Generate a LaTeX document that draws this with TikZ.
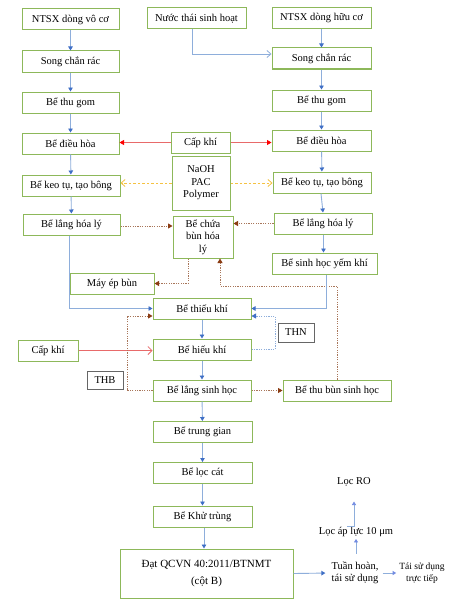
\documentclass[tikz,border=0pt]{standalone}
\usepackage{fontspec}
\setmainfont{Liberation Serif}
\usetikzlibrary{arrows.meta}
\definecolor{boxgreen}{HTML}{8DB85A}
\definecolor{linkblue}{HTML}{8EAEDB}
\definecolor{tipblue}{HTML}{3F6FC6}
\definecolor{airred}{HTML}{E86A6A}
\definecolor{chemyellow}{HTML}{F5C242}
\definecolor{sludge}{HTML}{A8765A}
\definecolor{tipbrown}{HTML}{8A3B12}
\tikzset{
  box/.style={draw=boxgreen, line width=1pt, fill=white, minimum height=21pt, inner sep=1pt, align=center},
  tagbox/.style={draw=gray!80!black, line width=0.9pt, fill=white, inner sep=1pt, align=center},
  plain/.style={inner sep=1pt, align=center},
  flow/.style={draw=linkblue, line width=0.9pt, -{Triangle[width=4.5pt,length=4pt,color=tipblue]}},
  flowopen/.style={draw=linkblue, line width=0.8pt, -{Straight Barb[width=7pt,length=4pt]}},
  air/.style={draw=airred, line width=0.9pt, -{Triangle[width=5pt,length=4.5pt,color=red]}},
  airopen/.style={draw=airred, line width=0.8pt, -{Straight Barb[width=8pt,length=4pt]}},
  chem/.style={draw=chemyellow, line width=0.8pt, dash pattern=on 2.5pt off 2pt, -{Straight Barb[width=7pt,length=4pt]}},
  mud/.style={draw=sludge, line width=0.8pt, dash pattern=on 1.2pt off 1.2pt, -{Triangle[width=5pt,length=4.5pt,color=tipbrown]}},
  recyc/.style={draw=linkblue, line width=0.8pt, dash pattern=on 1.2pt off 1.2pt, -{Triangle[width=5pt,length=4.5pt,color=tipblue]}},
  smallflow/.style={draw=linkblue, line width=0.7pt, -{Triangle[width=4pt,length=3.5pt,color=linkblue!80!blue]}},
}
\begin{document}
\begin{tikzpicture}[x=1pt,y=-1pt,font=\fontsize{10.5}{12.5}\selectfont]
\useasboundingbox[fill=white] (0,0) rectangle (458,610);

% left column
\node[box, minimum width=97pt] (L1) at (70.5,19.5) {NTSX dòng vô cơ};
\node[box, minimum width=97pt] (L2) at (70.5,61.5) {Song chắn rác};
\node[box, minimum width=97pt] (L3) at (70.5,102.5) {Bể thu gom};
\node[box, minimum width=97pt] (L4) at (70.5,143.5) {Bể điều hòa};
\node[box, minimum width=98pt] (L5) at (71,185.5) {Bể keo tụ, tạo bông};
\node[box, minimum width=97pt] (L6) at (71.5,224.5) {Bể lắng hóa lý};

% right column
\node[box, minimum width=99pt] (NT) at (196.5,18.5) {Nước thái sinh hoạt};
\node[box, minimum width=99pt] (R1) at (321.5,18) {NTSX dòng hữu cơ};
\node[box, minimum width=99pt] (R2) at (321.5,58.5) {Song chắn rác};
\node[box, minimum width=99pt] (R3) at (321.5,100.5) {Bể thu gom};
\node[box, minimum width=99pt] (R4) at (321.5,140.5) {Bể điều hòa};
\node[box, minimum width=98pt] (R5) at (322,182.5) {Bể keo tụ, tạo bông};
\node[box, minimum width=98pt] (R6) at (323,223.5) {Bể lắng hóa lý};
\node[box, minimum width=105pt] (R7) at (324.5,263.5) {Bể sinh học yếm khí};

% middle
\node[box, minimum width=59pt] (CK1) at (200.5,142.5) {Cấp khí};
\node[box, minimum width=58pt, minimum height=54pt] (CH) at (201,183) {NaOH\\PAC\\Polymer};
\node[box, minimum width=60pt, minimum height=42pt] (BC) at (203,237) {Bể chứa\\bùn hóa\\lý};
\node[box, minimum width=84pt] (MB) at (112,283.5) {Máy ép bùn};
\node[box, minimum width=98pt] (TK) at (202,308.5) {Bể thiếu khí};
\node[box, minimum width=98pt] (HK) at (202,349.5) {Bể hiếu khí};
\node[box, minimum width=60pt] (CK2) at (48,350.5) {Cấp khí};
\node[tagbox, minimum width=36pt, minimum height=19pt] (THN) at (296,332.5) {THN};
\node[tagbox, minimum width=36pt, minimum height=18pt] (THB) at (105,380) {THB};
\node[box, minimum width=98pt] (LS) at (202,390.5) {Bể lắng sinh học};
\node[box, minimum width=108pt] (TB) at (337,390.5) {Bể thu bùn sinh học};
\node[box, minimum width=99pt] (TG) at (202.5,432) {Bể trung gian};
\node[box, minimum width=99pt] (LC) at (202.5,473) {Bể lọc cát};
\node[box, minimum width=99pt] (KT) at (202.5,516.5) {Bể Khử trùng};
\node[box, minimum width=173pt, minimum height=49pt, font=\fontsize{11}{17}\selectfont] (QC) at (206.5,573.5) {Đạt QCVN 40:2011/BTNMT\\(cột B)};

% reuse branch
\node[plain, font=\fontsize{10.5}{12}\selectfont] (TH) at (355,573) {Tuần hoàn,\\tái sử dụng};
\node[plain, font=\fontsize{9.5}{11.5}\selectfont] (TS) at (422,573) {Tái sử dụng\\trực tiếp};
\node[plain] (LA) at (356,532) {Lọc áp lực 10 μm};
\node[plain] (RO) at (354,482) {Lọc RO};

% main flows left
\draw[flow] (L1) -- (L2);
\draw[flow] (L2) -- (L3);
\draw[flow] (L3) -- (L4);
\draw[flow] (L4) -- (L5);
\draw[flow] (L5) -- (L6);

% main flows right
\draw[flowopen] ([xshift=-4.5pt]NT.south) |- ([yshift=4.5pt]R2.west);
\draw[flow] (R1) -- (R2);
\draw[flow] (R2) -- (R3);
\draw[flow] (R3) -- (R4);
\draw[flow] (R4) -- (R5);
\draw[flow] ([xshift=-1pt]R5.south) -- ([xshift=0pt]R6.north);
\draw[flow] ([xshift=0.5pt]R6.south) -- ([xshift=-1pt]R7.north);

% air
\draw[air] (CK1.west) -- (CK1.west -| L4.east);
\draw[air] (CK1.east) -- (CK1.east -| R4.west);
\draw[airopen] (CK2.east) -- (CK2.east -| HK.west);

% chemicals
\draw[chem] (CH.west) -- (CH.west -| L5.east);
\draw[chem] (CH.east) -- (CH.east -| R5.west);

% sludge
\draw[mud] ([yshift=-1.5pt]L6.east) -- ([yshift=-1.5pt]L6.east -| BC.west);
\draw[mud] (R6.west) -- (R6.west -| BC.east);
\draw[mud] ([xshift=-15pt]BC.south) |- (MB.east);
\draw[mud] (TB.north) -- (TB.north |- 0,286) -| ([xshift=17pt]BC.south);
\draw[mud] (LS.east) -- (TB.west);
\draw[mud] (LS.west) -- (127,390.5) |- ([yshift=-7.5pt]TK.west);

% biological line
\draw[flow] ([xshift=-2.5pt]L6.south) |- (TK.west);
\draw[flow] ([xshift=1.5pt]R7.south) |- (TK.east);
\draw[flow] (TK) -- (HK);
\draw[flow] (HK) -- (LS);
\draw[recyc] (HK.east) -- (275,349.5) |- ([yshift=-7.5pt]TK.east);
\draw[flow] (LS) -- (TG);
\draw[flow] (TG) -- (LC);
\draw[flow] (LC) -- (KT);
\draw[flow] ([xshift=1.5pt]KT.south) -- ([xshift=-2.5pt]QC.north |- KT.south) ++(0,0) -- ([xshift=-2.5pt]QC.north);

% reuse
\draw[flow, shorten >=5pt] (QC.east) -- (TH.west);
\draw[smallflow, shorten <=3pt, shorten >=2pt] (TH.east) -- (TS.west);
\draw[smallflow, shorten <=7pt, shorten >=1pt] (TH.north -| LA.south) -- (LA.south);
\draw[smallflow, shorten <=9pt, shorten >=14pt] (LA.north) -- (LA.north -| RO.south) -- (RO.south);
\end{tikzpicture}
\end{document}
